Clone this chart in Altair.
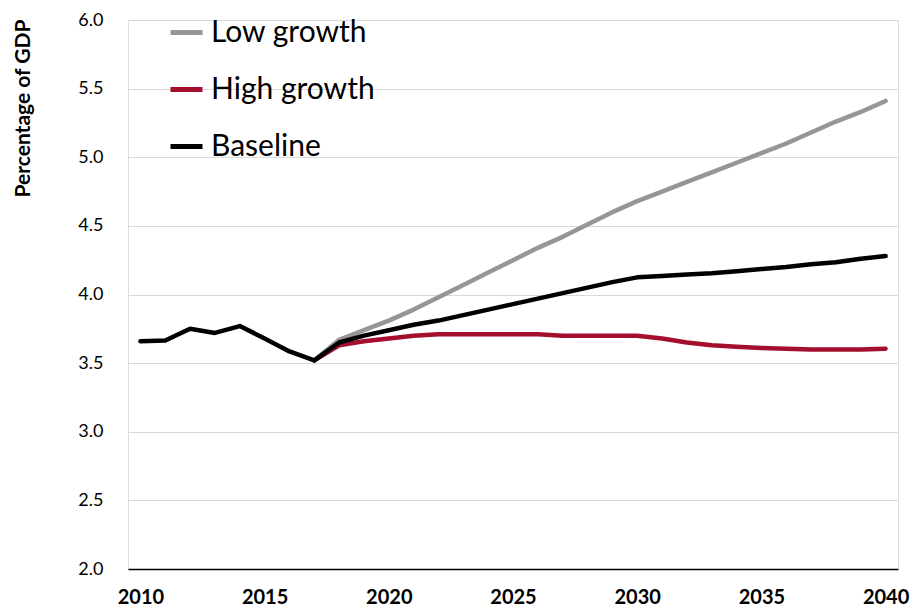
import altair as alt
import pandas as pd

years_hist = [2010, 2011, 2012, 2013, 2014, 2015, 2016, 2017]
baseline_hist = [3.66, 3.665, 3.75, 3.72, 3.77, 3.68, 3.585, 3.52]

years_proj = list(range(2017, 2041))
baseline_proj = [3.52, 3.65, 3.70, 3.74, 3.78, 3.81, 3.85, 3.89, 3.93, 3.97, 4.01,
                 4.05, 4.09, 4.125, 4.135, 4.145, 4.155, 4.17, 4.185, 4.20, 4.22,
                 4.235, 4.26, 4.28]
low_growth = [3.52, 3.67, 3.74, 3.81, 3.89, 3.98, 4.07, 4.16, 4.25, 4.34, 4.42,
              4.51, 4.60, 4.68, 4.75, 4.82, 4.89, 4.96, 5.03, 5.10, 5.18,
              5.26, 5.33, 5.41]
high_growth = [3.52, 3.63, 3.66, 3.68, 3.70, 3.71, 3.71, 3.71, 3.71, 3.71, 3.70,
               3.70, 3.70, 3.70, 3.68, 3.65, 3.63, 3.62, 3.61, 3.605, 3.60,
               3.60, 3.60, 3.605]

series_names = ["Low growth", "High growth", "Baseline"]
series_colors = ["#969696", "#A50F2D", "#000000"]
x_ticks = [2010, 2015, 2020, 2025, 2030, 2035, 2040]
y_ticks = [2.0, 2.5, 3.0, 3.5, 4.0, 4.5, 5.0, 5.5, 6.0]

rows = []
for y, v in zip(years_proj, low_growth):
    rows.append({"year": y, "value": v, "series": "Low growth"})
for y, v in zip(years_proj, high_growth):
    rows.append({"year": y, "value": v, "series": "High growth"})
for y, v in zip(years_hist + years_proj[1:], baseline_hist + baseline_proj[1:]):
    rows.append({"year": y, "value": v, "series": "Baseline"})
df = pd.DataFrame(rows)

FONT = "Lato"

base = alt.Chart(df).mark_line(strokeWidth=4.5, strokeCap="round", strokeJoin="round").encode(
    x=alt.X("year:Q",
            scale=alt.Scale(domain=[2009.5, 2040.5], nice=False, zero=False),
            axis=alt.Axis(values=x_ticks, format="d", title=None, grid=False,
                          ticks=False, domainColor="#000000", domainWidth=1.5,
                          labelFont=FONT, labelFontSize=20, labelFontWeight="bold",
                          labelColor="#000000", labelPadding=18)),
    y=alt.Y("value:Q",
            scale=alt.Scale(domain=[2, 6], nice=False, zero=False),
            axis=alt.Axis(values=y_ticks, format=".1f", title="Percentage of GDP",
                          grid=True, gridColor="#d9d9d9", gridWidth=1,
                          domain=False, ticks=False,
                          labelFont=FONT, labelFontSize=18, labelColor="#000000",
                          labelPadding=25,
                          titleFont=FONT, titleFontSize=21, titleFontWeight="bold",
                          titleColor="#000000", titleAngle=-90,
                          titleX=-105, titleY=88, titleAlign="center",
                          titleBaseline="middle")),
    color=alt.Color("series:N",
                    scale=alt.Scale(domain=series_names, range=series_colors),
                    legend=alt.Legend(title=None, orient="none", legendX=40, legendY=-6,
                                      symbolType="stroke", symbolSize=1024,
                                      symbolStrokeWidth=5, labelFont=FONT,
                                      labelFontSize=30, labelColor="#000000",
                                      labelLimit=400,
                                      labelOffset=6, rowPadding=23, padding=0)),
)

layers = [base.transform_filter(alt.datum.series == s) for s in series_names]

chart = alt.layer(*layers).properties(
    width=770, height=549,
    autosize=alt.AutoSizeParams(type="none"),
    padding={"left": 120, "top": 12, "right": 18, "bottom": 37},
).configure_view(stroke=None).configure(background="white")

chart.save("out.html", embed_options={"renderer": "svg", "actions": False})
